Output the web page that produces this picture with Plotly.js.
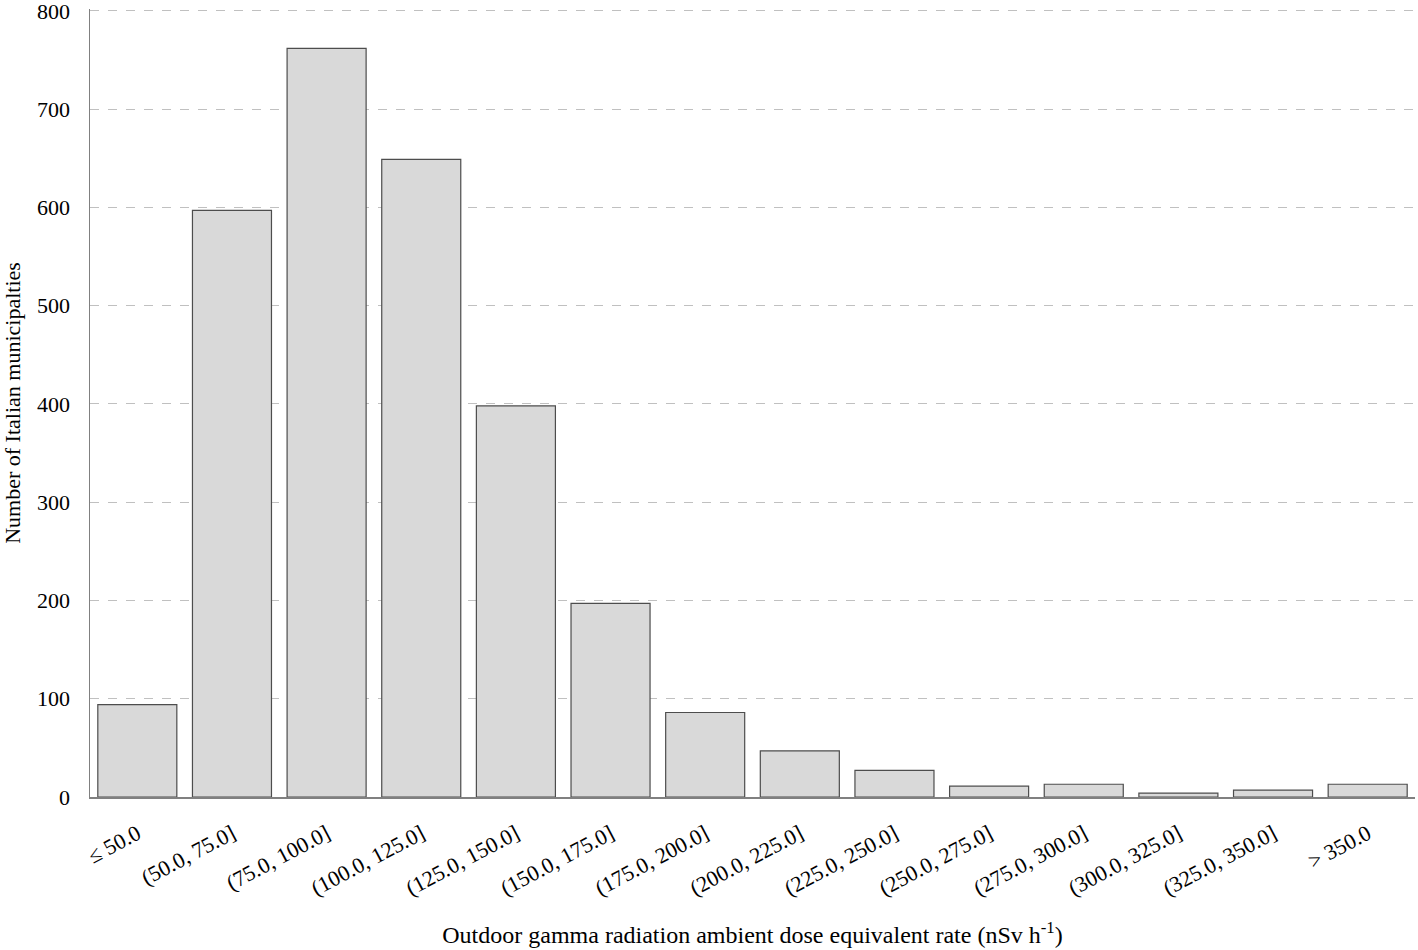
<!DOCTYPE html>
<html>
<head>
<meta charset="utf-8">
<script src="https://cdn.plot.ly/plotly-3.0.1.min.js"></script>
<style>
  html, body { margin: 0; padding: 0; background: #fff; }
  #chart { width: 1418px; height: 950px; }
</style>
</head>
<body>
<div id="chart"></div>
<script>
// dose rate classes (nSv h-1) and number of municipalities in each
let classes = ["≤ 50.0", "(50.0, 75.0]", "(75.0, 100.0]", "(100.0, 125.0]", "(125.0, 150.0]",
               "(150.0, 175.0]", "(175.0, 200.0]", "(200.0, 225.0]", "(225.0, 250.0]",
               "(250.0, 275.0]", "(275.0, 300.0]", "(300.0, 325.0]", "(325.0, 350.0]", "> 350.0"];
let counts = [94, 597, 762, 649, 398, 197, 86, 47, 27, 11, 13, 4, 7, 13];

let yTicks = [0, 100, 200, 300, 400, 500, 600, 700, 800];

let serif = "Liberation Serif, Times New Roman, serif";

Plotly.newPlot('chart', [{
    type: 'bar',
    x: classes,
    y: counts,
    marker: {color: '#d9d9d9', line: {color: '#4d4d4d', width: 1.2}},
    hoverinfo: 'x+y'
}], {
    width: 1418,
    height: 950,
    margin: {l: 90, r: 3, t: 9, b: 153},
    paper_bgcolor: '#ffffff',
    plot_bgcolor: '#ffffff',
    bargap: 0.165,
    showlegend: false,
    font: {family: serif, color: '#000000', size: 22},
    xaxis: {
        type: 'category',
        tickangle: -28,
        tickfont: {family: serif, size: 22, color: '#000'},
        ticklabelstandoff: 14,
        showline: true,
        linecolor: '#808080',
        linewidth: 1.5,
        ticks: '',
        showgrid: false,
        zeroline: false,
        title: {
            text: 'Outdoor gamma radiation ambient dose equivalent rate (nSv h<sup>-1</sup>)',
            font: {family: serif, size: 24, color: '#000'},
            standoff: 26
        },
        automargin: true
    },
    yaxis: {
        // a touch past 800 so the top grid line is not clipped at the edge
        range: [0, 802],
        tickvals: yTicks,
        ticktext: yTicks.map(String),
        tickfont: {family: serif, size: 22, color: '#000'},
        ticklabeloverflow: 'allow',
        showline: true,
        linecolor: '#808080',
        linewidth: 1.5,
        ticks: '',
        ticklabelstandoff: 14,
        showgrid: true,
        gridcolor: '#c0c0c0',
        griddash: 'dash',
        gridwidth: 1,
        zeroline: false,
        title: {
            text: 'Number of Italian municipalties',
            font: {family: serif, size: 22, color: '#000'},
            standoff: 20
        },
        automargin: false
    }
}, {displayModeBar: false, staticPlot: true});
</script>
</body>
</html>
